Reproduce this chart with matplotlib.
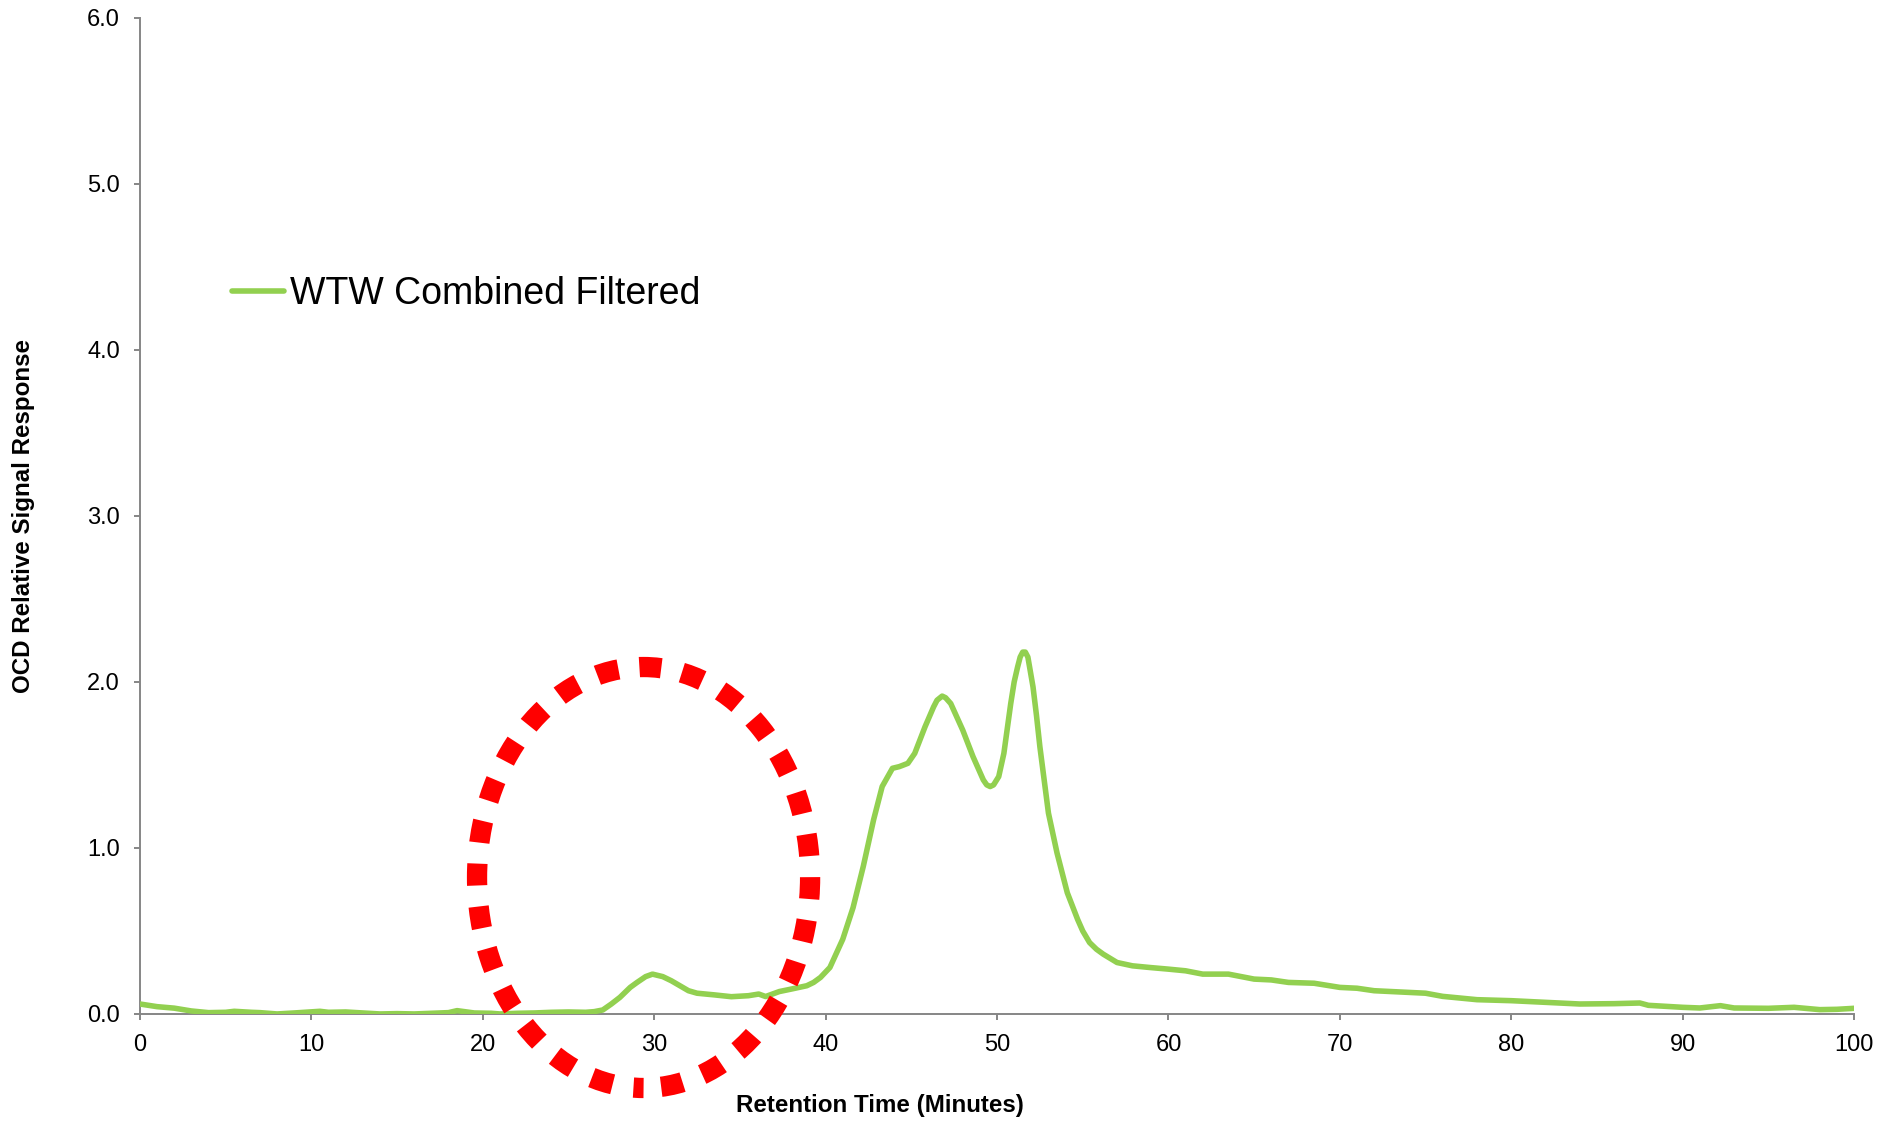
import matplotlib
matplotlib.use("Agg")
import matplotlib.pyplot as plt
from matplotlib.patches import Ellipse
from matplotlib.ticker import FormatStrFormatter


OUTPUT_FILE = "out.png"

SERIES_NAME = "WTW Combined Filtered"

# retention time (minutes) and OCD relative response
retention_time = [
    0, 1, 2, 3, 4, 5, 5.5, 6.5, 7, 8, 9, 10.5, 11, 12, 13, 14, 15, 16, 17, 18,
    18.5, 19.5, 20.5, 21, 22, 23, 24, 25, 26, 26.5, 27, 27.5, 28, 28.6, 29,
    29.5, 29.9, 30.5, 31, 31.5, 32, 32.5, 33.5, 34.5, 35.5, 36.1, 36.5, 37.3,
    38, 38.9, 39.3, 39.7, 40.25, 40.6, 41.0, 41.6, 42.2, 42.8, 43.3, 43.9,
    44.3, 44.8, 45.2, 45.8, 46.3, 46.5, 46.8, 47.0, 47.3, 48.0, 48.6, 49.2,
    49.4, 49.6, 49.8, 50.1, 50.4, 50.8, 51.0, 51.2, 51.35, 51.5, 51.65, 51.8,
    52.1, 52.3, 52.5, 53.0, 53.5, 54.1, 54.7, 55.0, 55.4, 55.8, 56.2, 56.6,
    57.0, 57.9, 58.9, 60, 61, 62, 63.5, 65, 66, 67, 68.5, 70, 71, 72, 74, 75,
    76, 78, 80, 82, 84, 86, 87.5, 88, 90, 91, 92.2, 93, 95, 96.5, 98, 99, 100,
]
signal_response = [
    0.06, 0.044, 0.035, 0.018, 0.008, 0.01, 0.016, 0.01, 0.008, 0.0, 0.006,
    0.016, 0.01, 0.012, 0.006, 0.0, 0.002, 0.0, 0.004, 0.008, 0.02, 0.006,
    0.004, 0.0, 0.004, 0.006, 0.01, 0.012, 0.01, 0.014, 0.024, 0.06, 0.1,
    0.16, 0.19, 0.225, 0.24, 0.225, 0.2, 0.17, 0.14, 0.125, 0.115, 0.104,
    0.11, 0.12, 0.105, 0.135, 0.15, 0.17, 0.19, 0.22, 0.28, 0.36, 0.45, 0.64,
    0.89, 1.17, 1.37, 1.48, 1.49, 1.51, 1.57, 1.73, 1.85, 1.89, 1.915, 1.905,
    1.87, 1.71, 1.55, 1.41, 1.38, 1.37, 1.38, 1.43, 1.57, 1.87, 2.0, 2.09,
    2.15, 2.18, 2.18, 2.15, 1.97, 1.8, 1.61, 1.21, 0.97, 0.73, 0.57, 0.5,
    0.43, 0.39, 0.36, 0.335, 0.31, 0.29, 0.28, 0.27, 0.26, 0.24, 0.24, 0.21,
    0.205, 0.19, 0.185, 0.16, 0.155, 0.14, 0.13, 0.125, 0.106, 0.086, 0.08,
    0.07, 0.06, 0.062, 0.066, 0.052, 0.04, 0.036, 0.05, 0.036, 0.034, 0.04,
    0.026, 0.028, 0.034,
]

x_ticks = list(range(0, 101, 10))
y_ticks = [0, 1, 2, 3, 4, 5, 6]

LINE_COLOR = "#92D050"
AXIS_COLOR = "#868686"

plt.rcParams["font.family"] = ["Liberation Sans", "DejaVu Sans"]


def main():
    fig = plt.figure(figsize=(18.81, 11.24), dpi=100)
    ax = fig.add_axes([0.0744, 0.0979, 0.9113, 0.8861])

    ax.plot(retention_time, signal_response, color=LINE_COLOR, linewidth=4,
            solid_capstyle="round", solid_joinstyle="round",
            label=SERIES_NAME, zorder=3)

    # dotted ring around the small early peak
    ring = Ellipse((29.38, 0.822), width=19.43, height=2.536, fill=False,
                   edgecolor="#FF0000", linewidth=14.6,
                   linestyle=(1.25, (1.08, 1.04)), capstyle="butt",
                   clip_on=False, zorder=4)
    ax.add_patch(ring)

    ax.set_xlim(0, 100)
    ax.set_ylim(0, 6)
    ax.set_xticks(x_ticks)
    ax.set_yticks(y_ticks)
    ax.yaxis.set_major_formatter(FormatStrFormatter("%.1f"))

    for side in ["top", "right"]:
        ax.spines[side].set_visible(False)
    for side in ["left", "bottom"]:
        ax.spines[side].set_color(AXIS_COLOR)
        ax.spines[side].set_linewidth(1.4)

    ax.tick_params(axis="both", direction="out", length=4.5, width=1.4,
                   color=AXIS_COLOR, labelsize=17, labelcolor="black")
    ax.tick_params(axis="y", pad=10)
    ax.tick_params(axis="x", pad=10)

    ax.set_xlabel("Retention Time (Minutes)", fontsize=17.4, fontweight="bold")
    ax.xaxis.set_label_coords(0.4317, -0.0924)
    ax.xaxis.label.set_va("center")

    ax.set_ylabel("OCD Relative Signal Response", fontsize=17.4,
                  fontweight="bold")
    ax.yaxis.set_label_coords(-0.0677, 0.5)
    ax.yaxis.label.set_va("center")

    fig.legend(loc="center left", bbox_to_anchor=(232 / 1881, 1 - 294 / 1124),
               frameon=False, fontsize=27, handlelength=1.4, handletextpad=0.15,
               borderpad=0, borderaxespad=0)

    fig.savefig(OUTPUT_FILE, dpi=100, facecolor="white")
    plt.close(fig)


if __name__ == "__main__":
    main()
